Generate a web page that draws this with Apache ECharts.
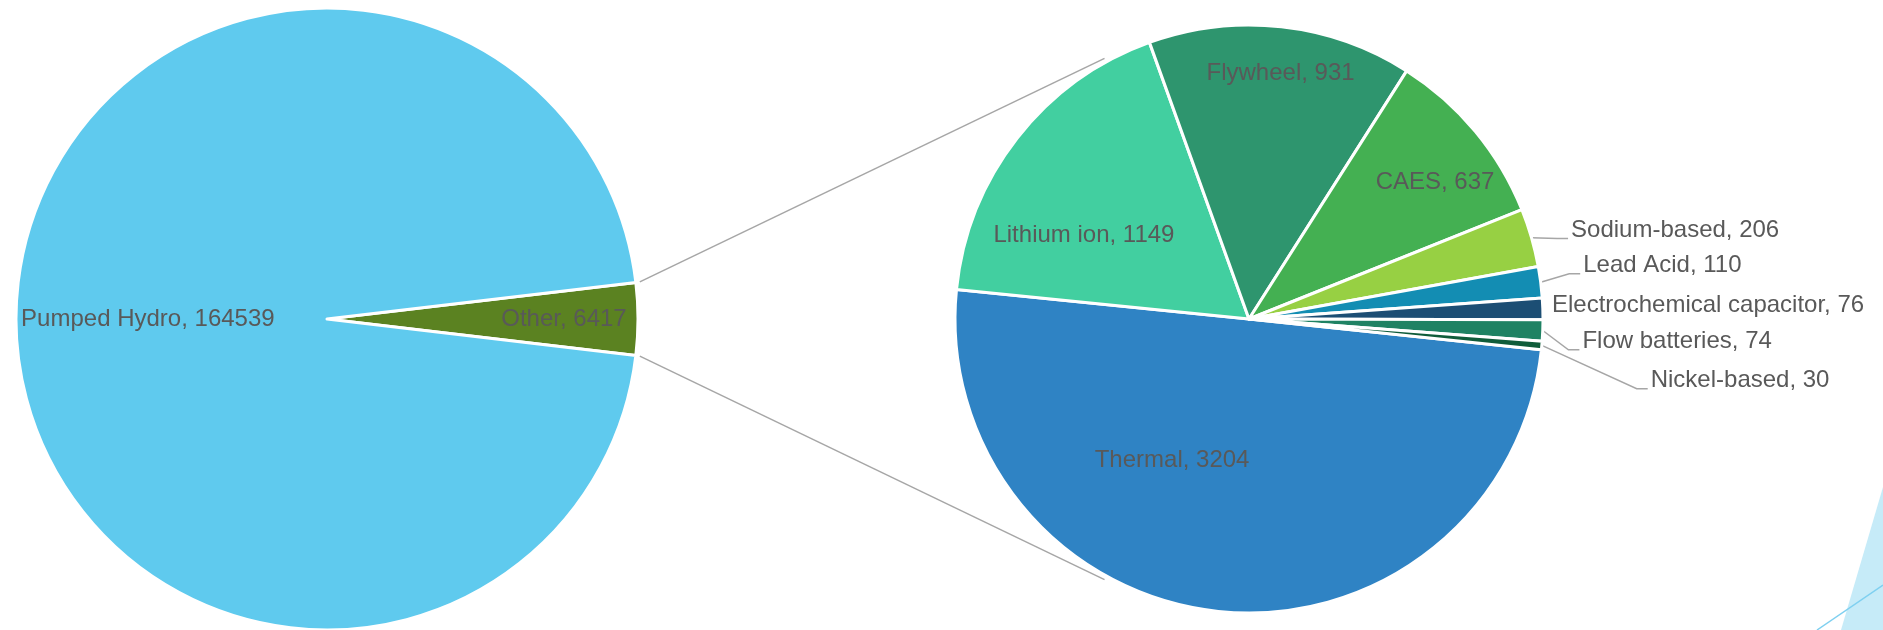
<!DOCTYPE html>
<html>
<head>
<meta charset="utf-8">
<title>Energy storage capacity</title>
<script src="https://cdn.jsdelivr.net/npm/echarts@6/dist/echarts.min.js"></script>
<style>
  html, body { margin: 0; padding: 0; background: #fff; }
  #main { width: 1883px; height: 630px; }
</style>
</head>
<body>
<div id="main"></div>
<script>
// first pie
var mainNames = ['Other', 'Pumped Hydro'];
var mainValues = [6417, 164539];

// second pie: what "Other" is made of
var otherNames = ['Thermal', 'Lithium ion', 'Flywheel', 'CAES', 'Sodium-based', 'Lead Acid',
  'Electrochemical capacitor', 'Flow batteries', 'Nickel-based'];
var otherValues = [3204, 1149, 931, 637, 206, 110, 76, 74, 30];

var mainColors = ['#5B8221', '#5FCAEE'];
var otherColors = ['#2F83C4', '#42CFA0', '#2E956E', '#44B052', '#97D043', '#138DB3', '#1C4E74', '#1F8263', '#0F5C3A'];

// pie geometry (px)
var leftC = [327, 319], leftR = 311;
var rightC = [1249, 319], rightR = 294;
var rightStart = 354;

// where the inside labels sit: [fraction of radius, angle shift in deg (clockwise)]
var leftSpots = { 'Pumped Hydro': [0.576, 0], 'Other': [0.762, 0] };
var rightSpots = {
  'Thermal': [0.547, 22.7],
  'Lithium ion': [0.63, -11],
  'Flywheel': [0.843, 1],
  'CAES': [0.785, 3.4]
};
// small nudges for the outside labels [dx, dy]
var outsideNudge = {
  'Sodium-based': [11, -4],
  'Lead Acid': [16, -15],
  'Electrochemical capacitor': [-17, -14],
  'Flow batteries': [16, -17],
  'Nickel-based': [92, -17]
};
var noLine = { 'Electrochemical capacitor': true };

var textColor = '#595959';
var lineColor = '#A6A6A6';
var font = 'Liberation Sans';

var total = mainValues[0] + mainValues[1];
var otherHalf = 180 * mainValues[0] / total; // Other slice centred on 0 deg

function placeLabels(c, r, names, spots, nudges) {
  return function (p) {
    var name = names[p.dataIndex];
    var lr = p.labelRect;
    var s = spots[name];
    if (s) {
      var mx = lr.x + lr.width / 2 - c[0], my = lr.y + lr.height / 2 - c[1];
      var ang = Math.atan2(my, mx) + s[1] * Math.PI / 180;
      return {
        x: c[0] + s[0] * r * Math.cos(ang),
        y: c[1] + s[0] * r * Math.sin(ang),
        align: 'center',
        verticalAlign: 'middle'
      };
    }
    var n = nudges && nudges[name];
    if (n) {
      var x = lr.x + n[0], y = lr.y + lr.height / 2 + n[1];
      var out = { x: x, y: y, align: 'left', verticalAlign: 'middle' };
      if (p.labelLinePoints && !noLine[name]) {
        var start = p.labelLinePoints[0];
        var ly = y + 8;
        out.labelLinePoints = [start, [x - 14, ly], [x - 3, ly]];
      }
      return out;
    }
  };
}

var leftData = mainNames.map(function (n, i) {
  return { name: n, value: mainValues[i], itemStyle: { color: mainColors[i] } };
});

var rightData = otherNames.map(function (n, i) {
  var d = { name: n, value: otherValues[i], itemStyle: { color: otherColors[i] } };
  if (rightSpots[n]) {
    d.label = { position: 'inside' };
    d.labelLine = { show: false };
  } else {
    d.label = { width: 420, overflow: 'none' };
    if (noLine[n]) d.labelLine = { show: false };
  }
  return d;
});

// connector lines between the two pies
function polar(c, r, deg) {
  var a = deg * Math.PI / 180;
  return [c[0] + r * Math.cos(a), c[1] - r * Math.sin(a)];
}
var joinAngle = 119;
var p1 = polar(leftC, leftR + 4, otherHalf), p2 = polar(rightC, rightR + 4, joinAngle);
var p3 = polar(leftC, leftR + 4, -otherHalf), p4 = polar(rightC, rightR + 4, -joinAngle);

var chart = echarts.init(document.getElementById('main'));
var option = {
  animation: false,
  backgroundColor: '#fff',
  textStyle: { fontFamily: font },
  graphic: [
    // slide decoration bottom right
    { type: 'polygon', silent: true, z: -10,
      shape: { points: [[1883, 487], [1841, 630], [1883, 630]] },
      style: { fill: '#C6EBF8' } },
    { type: 'line', silent: true, z: -10,
      shape: { x1: 1817, y1: 630, x2: 1883, y2: 585 },
      style: { stroke: '#7FD0F0', lineWidth: 1.5 } },
    { type: 'line', silent: true,
      shape: { x1: p1[0], y1: p1[1], x2: p2[0], y2: p2[1] },
      style: { stroke: lineColor, lineWidth: 1.5 } },
    { type: 'line', silent: true,
      shape: { x1: p3[0], y1: p3[1], x2: p4[0], y2: p4[1] },
      style: { stroke: lineColor, lineWidth: 1.5 } }
  ],
  series: [
    {
      type: 'pie',
      center: leftC,
      radius: leftR,
      startAngle: otherHalf,
      clockwise: true,
      data: leftData,
      itemStyle: { borderColor: '#fff', borderWidth: 3 },
      label: {
        position: 'inside',
        formatter: '{b}, {c}',
        color: textColor,
        fontFamily: font,
        fontSize: 24
      },
      labelLine: { show: false },
      labelLayout: placeLabels(leftC, leftR, mainNames, leftSpots),
      emphasis: { disabled: true }
    },
    {
      type: 'pie',
      center: rightC,
      radius: rightR,
      startAngle: rightStart,
      clockwise: true,
      data: rightData,
      avoidLabelOverlap: true,
      itemStyle: { borderColor: '#fff', borderWidth: 3 },
      label: {
        position: 'outside',
        formatter: '{b}, {c}',
        color: textColor,
        fontFamily: font,
        fontSize: 24,
        lineHeight: 37,
        distanceToLabelLine: 3
      },
      labelLine: {
        show: true,
        length: 12,
        length2: 14,
        lineStyle: { color: lineColor, width: 1.5 }
      },
      labelLayout: placeLabels(rightC, rightR, otherNames, rightSpots, outsideNudge),
      emphasis: { disabled: true }
    }
  ]
};
chart.setOption(option);
</script>
</body>
</html>
